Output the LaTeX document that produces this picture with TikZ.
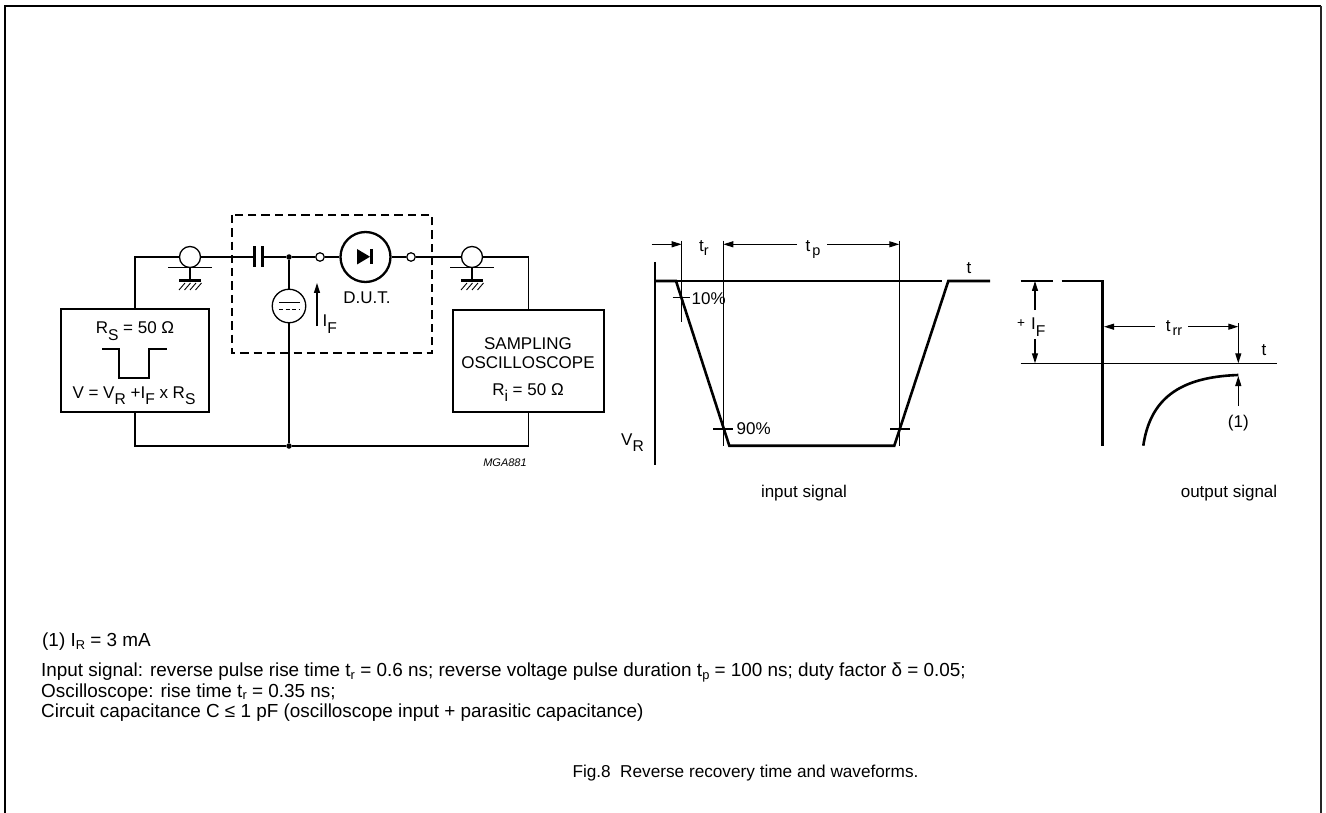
\documentclass[tikz,border=0pt]{standalone}
\usepackage{fontspec}
\setmainfont{Liberation Sans}
\usetikzlibrary{arrows.meta,calc}
\newcommand\cirsub[1]{\raisebox{-0.75ex}{\scalebox{0.92}{#1}}}
\newcommand\wsub[1]{\raisebox{-0.4ex}{\scalebox{0.85}{#1}}}
\newcommand\ftsub[1]{\raisebox{-0.3ex}{\scalebox{0.68}{#1}}}
\tikzset{
  wire/.style={line width=1.3pt},
  guide/.style={line width=1.1pt},
  wave/.style={line width=2.6pt},
  arr/.style={-{Triangle[length=10pt,width=6pt]}},
  lbl/.style={font=\fontsize{17}{17}\selectfont, inner sep=0pt, anchor=base},
  foot/.style={font=\fontsize{18.9}{18.9}\selectfont, inner sep=0pt, anchor=base west},
  dotn/.style={circle, fill, inner sep=0pt, minimum size=5.5pt},
  termn/.style={circle, draw, line width=1.2pt, fill=white, inner sep=0pt, minimum size=8.5pt},
  unit/.style={draw, line width=2.3pt, inner sep=0pt},
  coaxgnd/.pic={
    \node[circle, draw, line width=1.3pt, minimum size=21pt, inner sep=0pt] (-c) at (0,0) {};
    \draw[line width=1.3pt] (-22,10.5) -- (22,10.5);
    \draw[line width=1.3pt] (0,10.5) -- (0,24);
    \draw[line width=3pt] (-11,24) -- (11,24);
    \foreach \h in {-8,-2.5,3,8.5} \draw[line width=0.9pt] (\h+3,26) -- (\h-3,33);
  }
}
\begin{document}
\begin{tikzpicture}[x=1pt,y=-1pt]
\useasboundingbox (0,0) rectangle (1326,813);
\draw[line width=2pt] (5,813) -- (5,6) -- (1321,6);
\draw[line width=2.4pt, black!85] (1321,6) -- (1321,813);

% ---------- circuit ----------
\node[unit, minimum width=148pt, minimum height=103pt] (gen) at (135,360.5) {};
\node[unit, minimum width=151pt, minimum height=102pt] (osc) at (528.5,361) {};
\draw[line width=1.3pt, dash pattern=on 8.3pt off 5pt] (232,215) rectangle (432,353);

\pic (cxa) at (190,257) {coaxgnd};
\pic (cxb) at (472,257) {coaxgnd};
\coordinate (capL) at (254,257);
\coordinate (capR) at (262,257);
\node[dotn] (j1) at (289,257) {};
\node[dotn] (j2) at (289,446) {};
\node[circle, draw, wire, minimum size=33.5pt, inner sep=0pt] (src) at (289,306) {};
\node[termn] (t1) at (320,257) {};
\node[circle, draw, line width=2.3pt, minimum size=50pt, inner sep=0pt] (dut) at (365.5,257) {};
\node[termn] (t2) at (411,257) {};

\draw[wire] (gen.north) |- (cxa-c.west);
\draw[wire] (cxa-c.east) -- (capL);
\draw[line width=3pt] (254,246.5) -- (254,267.5) (262,246.5) -- (262,267.5);
\draw[wire] (capR) -- (j1) -- (t1) -- (dut) -- (t2) -- (cxb-c);
\draw[wire] (cxb-c.east) -| (osc.north);
\draw[wire] (j1) -- (src) -- (j2);
\draw[wire] (gen.south) |- (j2) -| (osc.south);

\draw[wire] (279,302.7) -- (300,302.7);
\draw[wire, dash pattern=on 4pt off 2.5pt] (279,309.3) -- (300,309.3);
\fill (357,249) -- (370,256.7) -- (357,264.5) -- cycle;
\draw[line width=2.7pt] (371.8,249) -- (371.8,264.5);
\node[lbl] (dutl) at (367,303.3) {D.U.T.};
\coordinate (ifa) at (317,326);
\coordinate (ifb) at (317,283);
\draw[wire, arr] (ifa) -- (ifb);
\node[lbl, anchor=base west] (ifl) at (322.5,326.7) {I\cirsub{F}};

\node[lbl] (rsl) at (135,333.5) {R\cirsub{S} = 50 Ω};
\draw[line width=1.6pt] (102,349) -- (119,349) -- (119,378) -- (149,378) -- (149,349) -- (167,349);
\node[lbl] (vl) at (134,398) {V = V\cirsub{R} +I\cirsub{F} x R\cirsub{S}};

\node[lbl] (sam) at (528,349) {SAMPLING};
\node[lbl] (oscl) at (528,368) {OSCILLOSCOPE};
\node[lbl] (ril) at (528,395) {R\cirsub{i} = 50 Ω};
\node[font=\fontsize{11}{11}\selectfont\itshape, inner sep=0pt, anchor=base] (mga) at (505,466) {MGA881};

% ---------- input signal ----------
\coordinate (ax1) at (655,262);
\coordinate (ax2) at (655,465);
\draw[guide] (ax1) -- (ax2);
\draw[wave] (655,281) -- (676,281) -- (729.3,445.7) -- (894.3,445.7) -- (948.3,281) -- (990,281);
\draw[guide] (676,281) -- (942,281);
\draw[guide] (681.7,240.7) -- (681.7,321.7);
\draw[guide] (723.3,240.7) -- (723.3,445.7);
\draw[guide] (899.3,240.7) -- (899.3,445.7);
\draw[guide, arr] (651.7,244.3) -- (681.7,244.3);
\node[lbl] (trl) at (704,251.7) {t\wsub{r}};
\draw[guide, arr] (797,244.3) -- (723.3,244.3);
\node[lbl] (tpl) at (813,251.7) {t\kern2pt\wsub{p}};
\draw[guide, arr] (827,244.3) -- (899.3,244.3);
\node[lbl] (tl1) at (969,274) {t};
\draw[guide] (672.7,297.3) -- (690,297.3);
\node[lbl, anchor=base west] (p10) at (691.5,305) {10\%};
\draw[guide] (713.3,429) -- (733.3,429);
\node[lbl, anchor=base west] (p90) at (736.5,434) {90\%};
\draw[guide] (890,429) -- (910,429);
\node[lbl, anchor=base west] (vrl) at (621,445) {V\cirsub{R}};
\node[lbl] (inl) at (804,497) {input signal};

% ---------- output signal ----------
\draw[guide] (1020.7,281) -- (1053.3,281);
\draw[wave] (1061.7,281) -- (1102.7,281) -- (1102.7,445.7);
\draw[guide] (1020.7,363.3) -- (1277.3,363.3);
\node[lbl] (tl2) at (1264,355) {t};
\draw[guide, arr] (1035,310) -- (1035,281);
\draw[guide, arr] (1035,339) -- (1035,363.3);
\node[lbl, anchor=base west] (ifl2) at (1017,330) {\raisebox{0.3ex}{\scalebox{0.8}{+}}\kern6pt I\cirsub{F}};
\draw[guide, arr] (1155,326.7) -- (1104,326.7);
\node[lbl] (trrl) at (1174,331.7) {t\kern2pt\wsub{rr}};
\draw[guide, arr] (1188,326.7) -- (1238.3,326.7);
\draw[guide, arr] (1238.3,323) -- (1238.3,363.3);
\draw[wave] (1143.3,445.7) .. controls (1150,400) and (1178,377) .. (1238.3,375);
\draw[guide, arr] (1238.3,406) -- (1238.3,376);
\node[lbl] (n1) at (1238.3,427) {(1)};
\node[lbl] (outl) at (1229,497) {output signal};

% ---------- notes ----------
\node[foot] (f1) at (42,646.5) {(1) I\ftsub{R} = 3 mA};
\node[foot] (f2) at (41,676.5) {Input signal: reverse pulse rise time t\ftsub{r} = 0.6 ns; reverse voltage pulse duration t\ftsub{p} = 100 ns; duty factor δ = 0.05;};
\node[foot] (f3) at (41,697) {Oscilloscope: rise time t\ftsub{r} = 0.35 ns;};
\node[foot] (f4) at (41,717.5) {Circuit capacitance C ≤ 1 pF (oscilloscope input + parasitic capacitance)};
\node[font=\fontsize{17.2}{17.2}\selectfont, inner sep=0pt, anchor=base] (cap) at (745.5,777) {Fig.8\hspace{0.55em}Reverse recovery time and waveforms.};
\end{tikzpicture}
\end{document}
